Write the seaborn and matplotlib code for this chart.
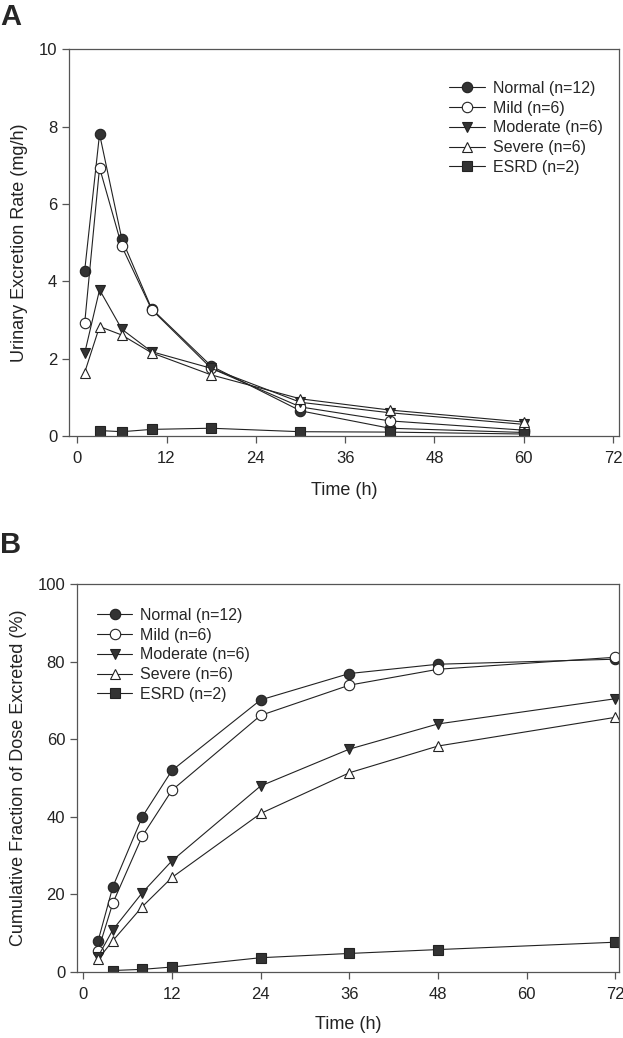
import numpy as np
import pandas as pd
import seaborn as sns
import matplotlib.pyplot as plt

# --------------------------------------------------
# Data
# --------------------------------------------------

GROUPS = ["Normal (n=12)", "Mild (n=6)", "Moderate (n=6)", "Severe (n=6)", "ESRD (n=2)"]

# Panel A: urinary excretion rate (mg/h)
time_a = [1, 3, 6, 10, 18, 30, 42, 60]
time_a_esrd = [3, 6, 10, 18, 30, 42, 60]
rate_normal = [4.27, 7.81, 5.09, 3.29, 1.81, 0.65, 0.20, 0.09]
rate_mild = [2.91, 6.94, 4.90, 3.27, 1.75, 0.75, 0.39, 0.15]
rate_moderate = [2.14, 3.78, 2.76, 2.18, 1.75, 0.87, 0.60, 0.30]
rate_severe = [1.64, 2.83, 2.61, 2.15, 1.58, 0.96, 0.67, 0.36]
rate_esrd = [0.14, 0.11, 0.17, 0.20, 0.11, 0.10, 0.05]

# Panel B: cumulative fraction of dose excreted (%)
time_b = [2, 4, 8, 12, 24, 36, 48, 72]
time_b_esrd = [4, 8, 12, 24, 36, 48, 72]
cum_normal = [7.9, 21.9, 40.0, 51.9, 70.1, 76.9, 79.3, 80.6]
cum_mild = [5.4, 17.7, 35.0, 46.8, 66.1, 73.9, 78.0, 81.1]
cum_moderate = [3.9, 10.8, 20.4, 28.6, 47.9, 57.4, 63.9, 70.4]
cum_severe = [3.2, 8.0, 16.8, 24.3, 40.8, 51.3, 58.2, 65.6]
cum_esrd = [0.3, 0.6, 1.2, 3.6, 4.7, 5.7, 7.6]

X_TICKS = [0, 12, 24, 36, 48, 60, 72]

# --------------------------------------------------
# Style
# --------------------------------------------------

sns.set_style("ticks")
plt.rcParams["font.family"] = ["Liberation Sans", "DejaVu Sans"]

INK = "#222222"
FILL = "#333333"
SPINE = "#555555"

# marker, face colour, size for each group
STYLES = {
    "Normal (n=12)": ("o", FILL, 7.5),
    "Mild (n=6)": ("o", "white", 7.5),
    "Moderate (n=6)": ("v", FILL, 7.5),
    "Severe (n=6)": ("^", "white", 7.5),
    "ESRD (n=2)": ("s", FILL, 6.5),
}


def long_frame(series):
    rows = []
    for group, (times, values) in zip(GROUPS, series):
        for t, v in zip(times, values):
            rows.append({"time": t, "value": v, "group": group})
    return pd.DataFrame(rows)


def draw_panel(ax, df):
    for group in GROUPS:
        marker, face, size = STYLES[group]
        sns.lineplot(
            data=df[df["group"] == group],
            x="time",
            y="value",
            ax=ax,
            color=INK,
            linewidth=0.8,
            marker=marker,
            markersize=size,
            markerfacecolor=face,
            markeredgecolor=INK,
            markeredgewidth=0.8,
            label=group,
        )
    for side in ["top", "right", "left", "bottom"]:
        ax.spines[side].set_visible(True)
        ax.spines[side].set_color(SPINE)
        ax.spines[side].set_linewidth(0.9)
    ax.tick_params(direction="out", length=5, width=0.9, color=SPINE,
                   labelsize=12, labelcolor="#222222")
    ax.tick_params(axis="x", pad=6)
    ax.set_xticks(X_TICKS)


# --------------------------------------------------
# Figure
# --------------------------------------------------

fig = plt.figure(figsize=(6.23, 10.38), dpi=100)

ax_a = fig.add_axes([0.1108, 0.58, 0.8828, 0.3725])
ax_b = fig.add_axes([0.1236, 0.0639, 0.87, 0.3735])

df_a = long_frame([
    (time_a, rate_normal),
    (time_a, rate_mild),
    (time_a, rate_moderate),
    (time_a, rate_severe),
    (time_a_esrd, rate_esrd),
])
df_b = long_frame([
    (time_b, cum_normal),
    (time_b, cum_mild),
    (time_b, cum_moderate),
    (time_b, cum_severe),
    (time_b_esrd, cum_esrd),
])

LEGEND_KW = dict(frameon=False, fontsize=11.5, handlelength=2.2,
                 handletextpad=0.5, labelspacing=0.3, borderaxespad=0)

# Panel A
draw_panel(ax_a, df_a)
ax_a.set_xlim(-1.1, 72.8)
ax_a.set_ylim(0, 10)
ax_a.set_yticks([0, 2, 4, 6, 8, 10])
ax_a.set_xlabel("Time (h)", fontsize=13, color="#222222")
ax_a.set_ylabel("Urinary Excretion Rate (mg/h)", fontsize=13, color="#222222")
ax_a.xaxis.set_label_coords(0.5, -0.118)
ax_a.yaxis.set_label_coords(-0.074, 0.5)
ax_a.legend(loc="upper left", bbox_to_anchor=(0.68, 0.935), **LEGEND_KW)

# Panel B
draw_panel(ax_b, df_b)
ax_b.set_xlim(-0.85, 72.5)
ax_b.set_ylim(0, 100)
ax_b.set_yticks([0, 20, 40, 60, 80, 100])
ax_b.set_xlabel("Time (h)", fontsize=13, color="#222222")
ax_b.set_ylabel("Cumulative Fraction of Dose Excreted (%)", fontsize=13, color="#222222")
ax_b.xaxis.set_label_coords(0.5, -0.115)
ax_b.yaxis.set_label_coords(-0.092, 0.5)
ax_b.legend(loc="upper left", bbox_to_anchor=(0.025, 0.955), **LEGEND_KW)

# Panel letters
fig.text(0.0, 0.997, "A", fontsize=21, fontweight="bold", va="top", ha="left")
fig.text(0.0, 0.488, "B", fontsize=21, fontweight="bold", va="top", ha="left")

fig.savefig("out.png", dpi=100)
